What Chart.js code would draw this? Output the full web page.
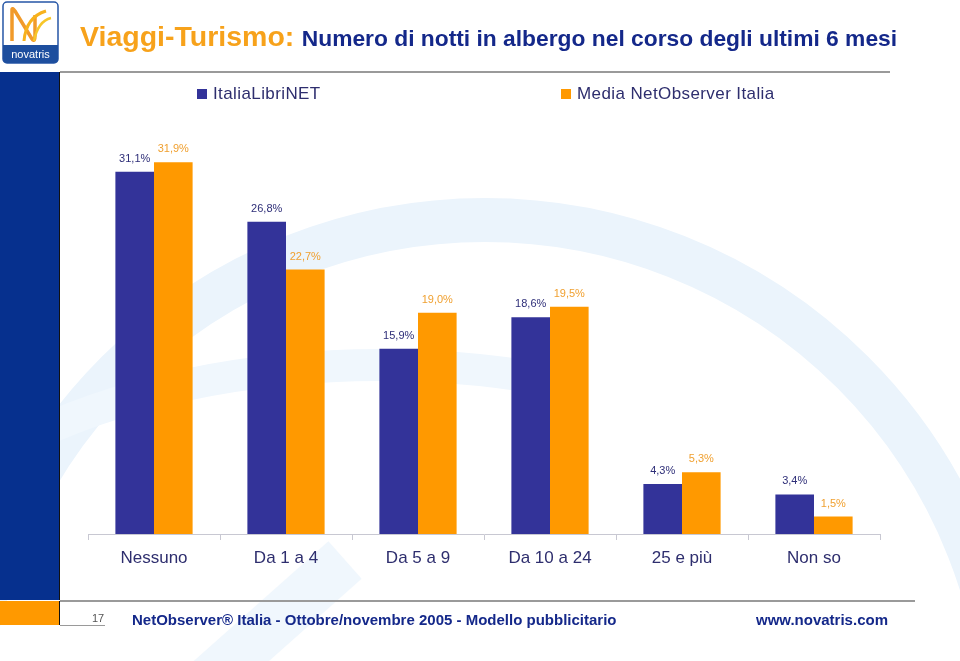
<!DOCTYPE html>
<html lang="it">
<head>
  <meta charset="UTF-8">
  <title>Viaggi-Turismo: Numero di notti in albergo</title>
  <script src="https://cdn.jsdelivr.net/npm/chart.js"></script>
  <style>
    body {
      margin: 0;
      width: 960px;
      height: 661px;
      overflow: hidden;
      font-family: "Liberation Sans", Arial, sans-serif;
      background: #fff;
    }
    #page { position: relative; width: 960px; height: 661px; }
    #chart { position: absolute; left: 0; top: 0; z-index: 0; }
    .abs { position: absolute; z-index: 1; }
    #strip { left: 0; top: 72px; width: 59px; height: 528px; background: #06308e; border-right: 1px solid #111; }
    #stripOrange { left: 0; top: 601px; width: 59px; height: 24px; background: #ff9900; border-right: 1px solid #111; }
    #topLine { left: 60px; top: 71px; width: 830px; height: 2px; background: #9a9a9a; }
    #footLine { left: 60px; top: 600px; width: 855px; height: 2px; background: #9a9a9a; }
    #pageLine { left: 60px; top: 625px; width: 45px; height: 1px; background: #9a9a9a; }
    #title { left: 80px; top: 20px; white-space: nowrap; font-weight: bold; }
    #title .a { color: #f7a21b; font-size: 28.5px; }
    #title .b { color: #14288a; font-size: 22.8px; margin-left: 3px; }
    .leg { top: 84px; font-size: 17px; color: #2e2e6e; letter-spacing: 0.4px; white-space: nowrap; }
    .leg i { display: inline-block; width: 10px; height: 10px; margin-right: 6px; vertical-align: 0; }
    #pageNum { left: 92px; top: 612px; font-size: 11px; color: #555; }
    #foot { left: 132px; top: 611px; font-size: 15px; font-weight: bold; color: #14288a; white-space: nowrap; }
    #site { left: 756px; top: 611px; font-size: 15px; font-weight: bold; color: #14288a; white-space: nowrap; }
    #logo { left: 2px; top: 1px; }
  </style>
</head>
<body>
<div id="page">
  <canvas id="chart" width="960" height="661"></canvas>

  <svg id="logo" class="abs" width="57" height="63" viewBox="0 0 57 63">
    <rect x="1" y="1" width="55" height="61" rx="4" fill="#fff" stroke="#2656a6" stroke-width="1.5"/>
    <path d="M1 44 H56 V58 Q56 62 52 62 H5 Q1 62 1 58 Z" fill="#1d4e9e"/>
    <text x="28.5" y="57" text-anchor="middle" font-size="11" fill="#fff" font-family="Liberation Sans, Arial">novatris</text>
    <path d="M10 40 V9 Q10 6 13 10 L30 38 Q33 42 33 34 V14" fill="none" stroke="#f19a2a" stroke-width="3.5"/>
    <path d="M22 40 Q24 16 44 10" fill="none" stroke="#f7b21c" stroke-width="3"/>
    <path d="M32 40 Q36 20 49 17" fill="none" stroke="#f7c629" stroke-width="2.5"/>
  </svg>

  <div id="title" class="abs"><span class="a">Viaggi-Turismo:</span> <span class="b">Numero di notti in albergo nel corso degli ultimi 6 mesi</span></div>

  <div class="abs leg" style="left:197px"><i style="background:#333399"></i>ItaliaLibriNET</div>
  <div class="abs leg" style="left:561px"><i style="background:#ff9900"></i>Media NetObserver Italia</div>

  <div id="strip" class="abs"></div>
  <div id="stripOrange" class="abs"></div>
  <div id="topLine" class="abs"></div>
  <div id="footLine" class="abs"></div>
  <div id="pageLine" class="abs"></div>
  <div id="pageNum" class="abs">17</div>
  <div id="foot" class="abs">NetObserver® Italia - Ottobre/novembre 2005 - Modello pubblicitario</div>
  <div id="site" class="abs">www.novatris.com</div>
</div>

<script>
  const categories = ['Nessuno', 'Da 1 a 4', 'Da 5 a 9', 'Da 10 a 24', '25 e più', 'Non so'];
  const italiaLibriNet = [31.1, 26.8, 15.9, 18.6, 4.3, 3.4];
  const mediaNetObserver = [31.9, 22.7, 19.0, 19.5, 5.3, 1.5];
  const seriesNames = ['ItaliaLibriNET', 'Media NetObserver Italia'];

  const fontFamily = '"Liberation Sans", Arial, sans-serif';

  // faint decorative swooshes behind the chart
  const backdrop = {
    id: 'backdrop',
    beforeDraw(chart) {
      const ctx = chart.ctx;
      ctx.save();
      ctx.fillStyle = '#fff';
      ctx.fillRect(0, 0, chart.width, chart.height);
      ctx.strokeStyle = '#ebf4fc';
      ctx.lineWidth = 44;
      ctx.beginPath();
      ctx.arc(485, 740, 520, Math.PI * 1.0, Math.PI * 2);
      ctx.stroke();
      ctx.lineWidth = 32;
      ctx.strokeStyle = '#f0f7fd';
      ctx.beginPath();
      ctx.ellipse(380, 640, 520, 275, 0, Math.PI * 1.0, Math.PI * 1.62);
      ctx.stroke();
      ctx.lineWidth = 50;
      ctx.beginPath();
      ctx.moveTo(210, 680);
      ctx.lineTo(345, 560);
      ctx.stroke();
      ctx.restore();
    }
  };

  // value labels above each bar
  const barLabels = {
    id: 'barLabels',
    afterDatasetsDraw(chart) {
      const ctx = chart.ctx;
      ctx.save();
      ctx.font = '11px ' + fontFamily;
      ctx.textAlign = 'center';
      ctx.textBaseline = 'middle';
      chart.data.datasets.forEach((ds, i) => {
        const meta = chart.getDatasetMeta(i);
        ctx.fillStyle = ds.labelColor;
        meta.data.forEach((bar, j) => {
          const txt = ds.data[j].toFixed(1).replace('.', ',') + '%';
          ctx.fillText(txt, bar.x, bar.y - 13);
        });
      });
      ctx.restore();
    }
  };

  new Chart(document.getElementById('chart').getContext('2d'), {
    type: 'bar',
    data: {
      labels: categories,
      datasets: [
        { label: seriesNames[0], data: italiaLibriNet, backgroundColor: '#333399', labelColor: '#2e2e78' },
        { label: seriesNames[1], data: mediaNetObserver, backgroundColor: '#ff9900', labelColor: '#f0a030' }
      ]
    },
    options: {
      responsive: false,
      animation: false,
      layout: { padding: { left: 88, right: 80, top: 68, bottom: 67 } },
      datasets: { bar: { categoryPercentage: 0.585, barPercentage: 1 } },
      scales: {
        x: {
          afterFit(scale) { scale.height = 60; },
          grid: { drawOnChartArea: false, drawTicks: true, tickLength: 6, color: '#c8c8d2' },
          border: { display: true, color: '#c8c8d2' },
          ticks: { color: '#2e2e6e', padding: 8, font: { size: 17, family: fontFamily } }
        },
        y: { display: false, min: 0, max: 40 }
      },
      plugins: {
        legend: { display: false },
        tooltip: { enabled: false }
      }
    },
    plugins: [backdrop, barLabels]
  });
</script>
</body>
</html>
